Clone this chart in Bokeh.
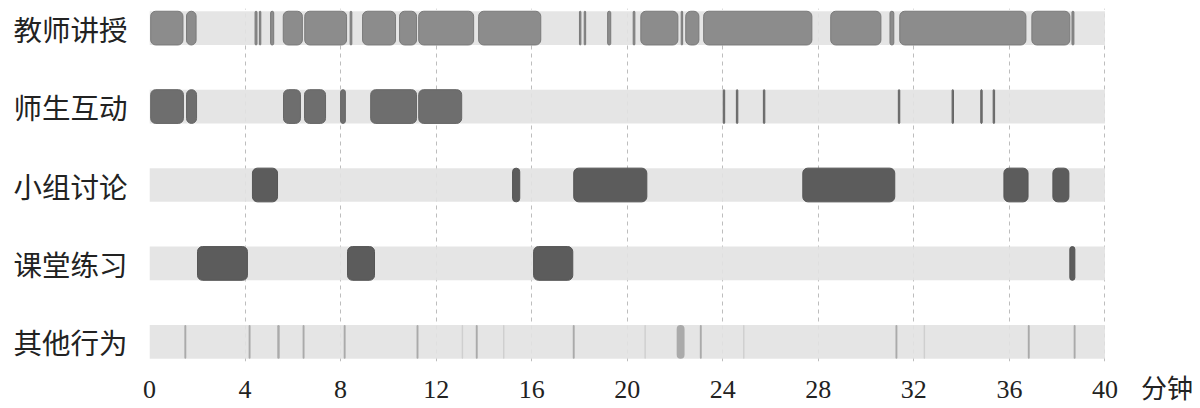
from bokeh.plotting import figure
from bokeh.models import FixedTicker, ColumnDataSource
from bokeh.embed import file_html
from bokeh.resources import INLINE

# ---- data (minutes) ----
categories = ["教师讲授", "师生互动", "小组讨论", "课堂练习", "其他行为"]
x_ticks = [0, 4, 8, 12, 16, 20, 24, 28, 32, 36, 40]
unit_label = "分钟"
unit_pos = 42.6

lecture_start = [0.05, 1.55, 4.42, 4.60, 5.07, 5.60, 6.50, 8.40, 8.92, 10.47, 11.27, 13.78,
                 18.00, 18.20, 19.18, 20.25, 20.57, 22.26, 22.45, 23.20, 28.52, 31.00, 31.41, 36.94, 38.62]
lecture_end = [1.40, 1.95, 4.50, 4.66, 5.20, 6.40, 8.25, 8.47, 10.30, 11.18, 13.57, 16.38,
               18.06, 18.26, 19.31, 20.32, 22.12, 22.32, 23.00, 27.73, 30.62, 31.16, 36.69, 38.53, 38.70]

interact_start = [0.05, 1.55, 5.61, 6.49, 8.00, 9.26, 11.27, 24.02, 24.57, 25.70, 31.35, 33.60, 34.80, 35.32]
interact_end = [1.42, 1.97, 6.32, 7.37, 8.20, 11.18, 13.07, 24.08, 24.63, 25.76, 31.41, 33.66, 34.86, 35.38]

group_start = [4.31, 15.20, 17.76, 27.35, 35.77, 37.82]
group_end = [5.36, 15.50, 20.82, 31.20, 36.78, 38.49]

practice_start = [2.01, 8.29, 16.08, 38.53]
practice_end = [4.10, 9.42, 17.72, 38.74]

other_start = [1.46, 4.15, 5.35, 6.41, 8.13, 11.18, 13.66, 17.72, 22.07, 23.04, 31.23, 36.77, 38.69]
other_end = [1.54, 4.23, 5.45, 6.49, 8.21, 11.26, 13.74, 17.80, 22.40, 23.12, 31.31, 36.85, 38.77]
other_faint_start = [13.07, 14.80, 20.72, 24.85, 32.41]
other_faint_end = [13.13, 14.86, 20.78, 24.91, 32.47]

# ---- figure ----
p = figure(width=1200, height=406, x_range=(0, 44.0), y_range=(-0.25, 4.25),
           output_backend="svg", toolbar_location=None,
           min_border_left=149, min_border_right=0, min_border_top=8, min_border_bottom=42)
p.outline_line_color = None
p.background_fill_color = "white"

row_y = {c: 4 - i for i, c in enumerate(categories)}
H = 0.43
x_end = x_ticks[-1]

# background bands
p.hbar(y=[row_y[c] for c in categories], left=[x_ticks[0]] * 5, right=[x_end] * 5, height=H,
       fill_color="#e2e2e2", fill_alpha=0.9, line_color=None)

def bars(cat, starts, ends, fill, line, alpha=1.0):
    src = ColumnDataSource(dict(y=[row_y[cat]] * len(starts), left=starts, right=ends))
    p.hbar(y="y", left="left", right="right", height=H, source=src,
           fill_color=fill, line_color=line, line_width=1, fill_alpha=alpha,
           border_radius=5)

bars("教师讲授", lecture_start, lecture_end, "#8c8c8c", "#7a7a7a")
bars("师生互动", interact_start, interact_end, "#6e6e6e", "#666666")
bars("小组讨论", group_start, group_end, "#5c5c5c", "#555555")
bars("课堂练习", practice_start, practice_end, "#5c5c5c", "#555555")
bars("其他行为", other_start, other_end, "#aaaaaa", None)
bars("其他行为", other_faint_start, other_faint_end, "#cfcfcf", None)

# grid
p.ygrid.grid_line_color = None
p.xgrid.ticker = FixedTicker(ticks=x_ticks)
p.xgrid.grid_line_color = "#bdbdbd"
p.xgrid.grid_line_dash = "4 4"
p.xgrid.grid_line_width = 1

# x axis (tick labels + unit label as an extra tick)
p.xaxis.ticker = FixedTicker(ticks=x_ticks + [unit_pos])
p.xaxis.major_label_overrides = {unit_pos: unit_label}
p.xaxis.axis_line_color = None
p.xaxis.major_tick_line_color = None
p.xaxis.minor_tick_line_color = None
p.xaxis.major_tick_out = 0
p.xaxis.major_label_standoff = 13
p.xaxis.major_label_text_font = "Liberation Serif, Noto Sans CJK SC"
p.xaxis.major_label_text_font_size = "26px"
p.xaxis.major_label_text_color = "#222222"

# y axis
p.yaxis.ticker = FixedTicker(ticks=[row_y[c] for c in categories])
p.yaxis.major_label_overrides = {row_y[c]: c for c in categories}
p.yaxis.axis_line_color = None
p.yaxis.major_tick_line_color = None
p.yaxis.minor_tick_line_color = None
p.yaxis.major_tick_out = 0
p.yaxis.major_label_standoff = 22
p.yaxis.major_label_text_font = "Noto Sans CJK SC"
p.yaxis.major_label_text_font_size = "28.5px"
p.yaxis.major_label_text_font_style = "normal"
p.yaxis.major_label_text_color = "#222222"

open("out.html", "w").write(file_html(p, INLINE))
